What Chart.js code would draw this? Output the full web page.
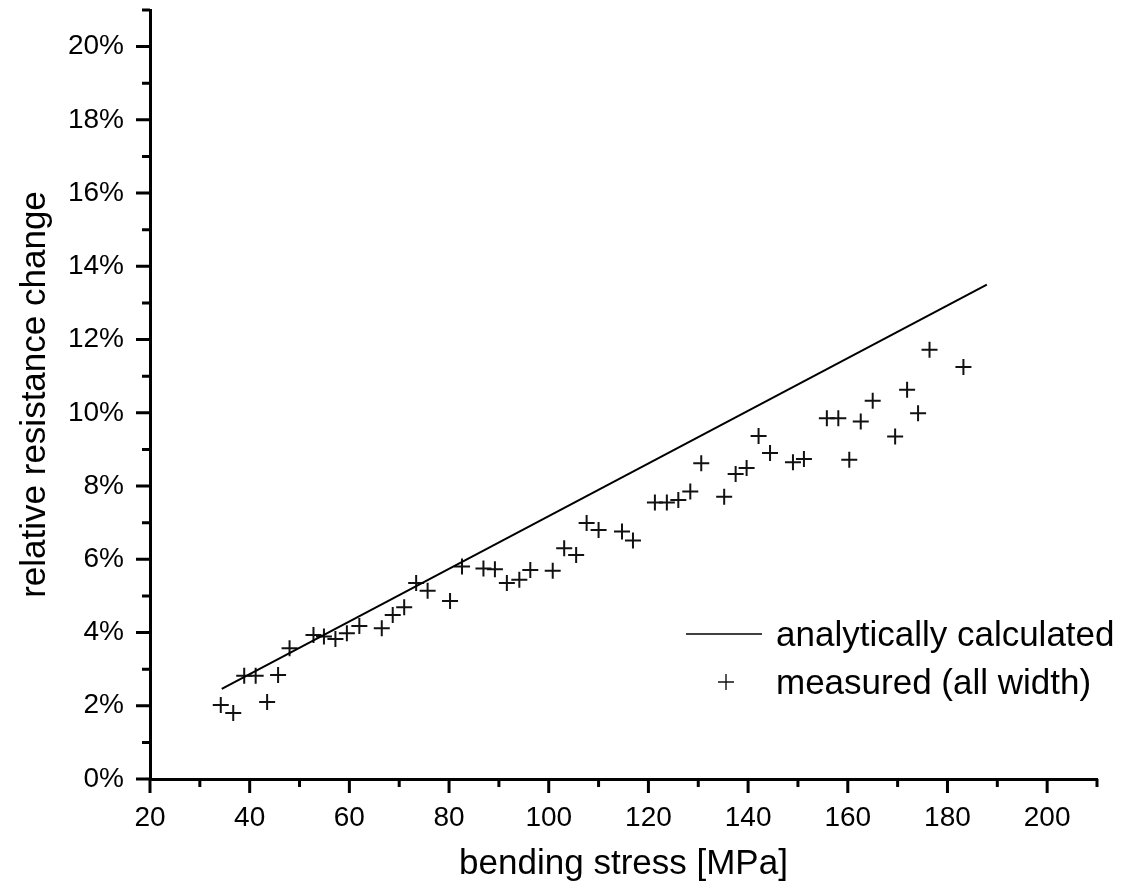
<!DOCTYPE html>
<html lang="en">
<head>
    <meta charset="UTF-8">
    <title>relative resistance change vs bending stress</title>
    <script src="https://cdn.jsdelivr.net/npm/chart.js"></script>
    <style>
        html, body { margin: 0; padding: 0; background: #fff; }
        .wrap { width: 1130px; height: 889px; position: relative; }
    </style>
</head>
<body>
    <div class="wrap">
        <canvas id="stressChart"></canvas>
    </div>
    <script>
// analytically calculated line (end points)
const calcStress = [34.4, 187.9];
const calcChange = [2.46, 13.50];

// measured (all width)
const measuredStress = [34.2, 36.7, 38.9, 41.2, 43.5, 45.7, 48.0, 52.8, 54.9, 57.2,
    59.5, 62.0, 66.5, 68.7, 71.0, 73.4, 75.7, 80.2, 82.6, 86.9,
    89.2, 91.6, 94.1, 96.3, 100.8, 103.1, 105.5, 107.6, 110.0, 114.7,
    116.9, 121.3, 123.7, 126.0, 128.4, 130.6, 135.2, 137.5, 139.7, 142.1,
    144.4, 149.0, 151.2, 155.8, 158.1, 160.3, 162.6, 165.0, 169.5, 171.9,
    174.1, 176.4, 183.2];
const measuredChange = [2.02, 1.80, 2.82, 2.82, 2.10, 2.84, 3.57, 3.93, 3.89, 3.82,
    3.98, 4.18, 4.12, 4.48, 4.69, 5.35, 5.14, 4.86, 5.80, 5.75,
    5.73, 5.35, 5.44, 5.71, 5.69, 6.30, 6.12, 6.99, 6.80, 6.76,
    6.51, 7.55, 7.55, 7.62, 7.85, 8.62, 7.71, 8.33, 8.49, 9.37,
    8.90, 8.65, 8.74, 9.85, 9.85, 8.72, 9.76, 10.33, 9.35, 10.63,
    9.99, 11.72, 11.25];

const seriesNames = ['analytically calculated', 'measured (all width)'];

const FONT = '"Liberation Sans", Arial, sans-serif';

// outward tick marks, long ones on labelled values
const axisTicks = {
    id: 'axisTicks',
    afterDraw(chart) {
        const ctx = chart.ctx;
        const x = chart.scales.x, y = chart.scales.y;
        ctx.save();
        ctx.strokeStyle = '#000';
        ctx.lineWidth = 3;
        ctx.beginPath();
        x.ticks.forEach(t => {
            const px = x.getPixelForValue(t.value);
            const len = t.value % 20 === 0 ? 14 : 8;
            ctx.moveTo(px, x.top);
            ctx.lineTo(px, x.top + len);
        });
        y.ticks.forEach(t => {
            const py = y.getPixelForValue(t.value);
            const len = t.value % 2 === 0 ? 14 : 8;
            ctx.moveTo(y.right, py);
            ctx.lineTo(y.right - len, py);
        });
        ctx.stroke();
        ctx.restore();
    }
};

// legend inside the plot, lower right
const innerLegend = {
    id: 'innerLegend',
    afterDraw(chart) {
        const ctx = chart.ctx;
        ctx.save();
        ctx.font = '35px ' + FONT;
        ctx.fillStyle = '#000';
        ctx.textBaseline = 'middle';
        ctx.textAlign = 'left';

        ctx.strokeStyle = '#000';
        ctx.lineWidth = 1.6;
        ctx.beginPath();
        ctx.moveTo(686, 634);
        ctx.lineTo(762, 634);
        ctx.stroke();
        ctx.fillText(seriesNames[0], 776, 636);

        ctx.strokeStyle = '#111';
        ctx.lineWidth = 1.4;
        ctx.beginPath();
        ctx.moveTo(718, 682);
        ctx.lineTo(734, 682);
        ctx.moveTo(726, 674);
        ctx.lineTo(726, 690);
        ctx.stroke();
        ctx.fillText(seriesNames[1], 776, 684);
        ctx.restore();
    }
};

const ctx = document.getElementById('stressChart').getContext('2d');

new Chart(ctx, {
    type: 'scatter',
    data: {
        datasets: [{
            label: seriesNames[0],
            data: calcStress.map((v, i) => ({ x: v, y: calcChange[i] })),
            showLine: true,
            borderColor: '#000',
            borderWidth: 2,
            pointRadius: 0,
            fill: false
        }, {
            label: seriesNames[1],
            data: measuredStress.map((v, i) => ({ x: v, y: measuredChange[i] })),
            pointStyle: 'cross',
            pointRadius: 8,
            pointBorderWidth: 2,
            borderColor: '#111',
            backgroundColor: '#111'
        }]
    },
    options: {
        responsive: true,
        maintainAspectRatio: false,
        animation: false,
        layout: { padding: { top: 9, right: 33, left: 0, bottom: 0 } },
        plugins: {
            legend: { display: false },
            tooltip: { enabled: false }
        },
        scales: {
            x: {
                type: 'linear',
                min: 20,
                max: 210,
                grid: { display: false, drawTicks: false },
                border: { display: true, color: '#000', width: 3 },
                ticks: {
                    stepSize: 10,
                    padding: 22,
                    color: '#000',
                    maxRotation: 0,
                    autoSkip: false,
                    font: { family: FONT, size: 28 },
                    callback: v => (v % 20 === 0 && v <= 200) ? String(v) : ''
                },
                title: {
                    display: true,
                    text: 'bending stress [MPa]',
                    color: '#000',
                    font: { family: FONT, size: 35 },
                    padding: { top: 0, bottom: 4 }
                },
                afterFit: s => { s.height = 110; s.paddingLeft = 0; s.paddingRight = 0; }
            },
            y: {
                type: 'linear',
                min: 0,
                max: 21,
                grid: { display: false, drawTicks: false },
                border: { display: true, color: '#000', width: 3 },
                ticks: {
                    stepSize: 1,
                    padding: 26,
                    color: '#000',
                    autoSkip: false,
                    font: { family: FONT, size: 28 },
                    callback: v => (v % 2 === 0 && v <= 20) ? v + '%' : ''
                },
                title: {
                    display: true,
                    text: 'relative resistance change',
                    color: '#000',
                    font: { family: FONT, size: 35 },
                    padding: { top: 14, bottom: 0 }
                },
                afterFit: s => { s.width = 150; s.paddingTop = 0; s.paddingBottom = 0; }
            }
        }
    },
    plugins: [axisTicks, innerLegend]
});
    </script>
</body>
</html>
